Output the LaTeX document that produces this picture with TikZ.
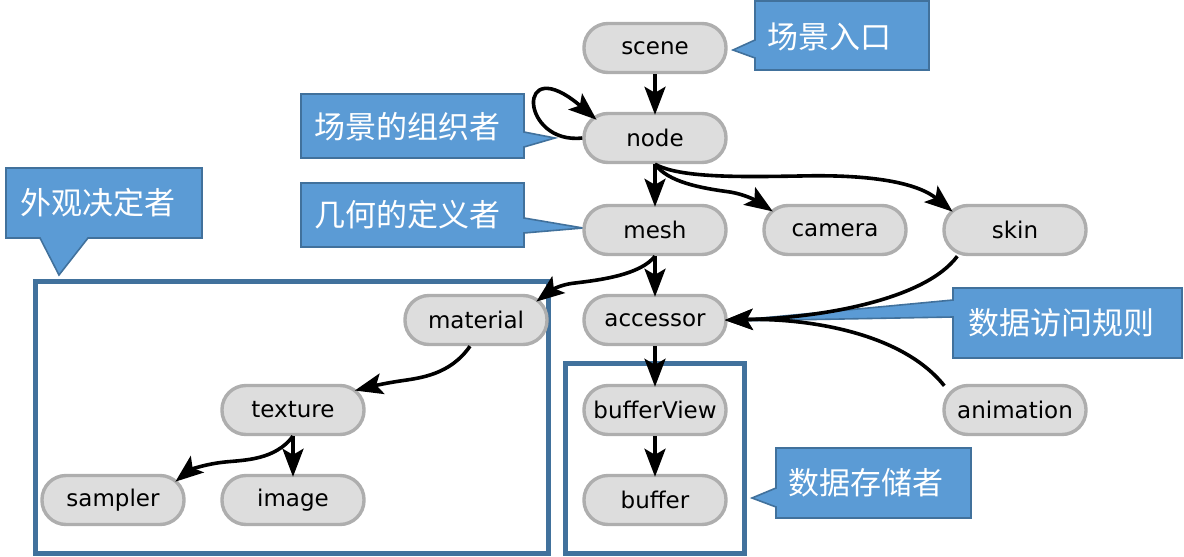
\documentclass[tikz,border=0pt]{standalone}
\usepackage{fontspec}
\setmainfont{DejaVu Sans}
\newfontfamily\cjk{Noto Sans CJK SC}
\usetikzlibrary{arrows.meta,calc}
\definecolor{nodefill}{HTML}{DDDDDD}
\definecolor{nodeline}{HTML}{AEAEAE}
\definecolor{callfill}{HTML}{5B9BD5}
\definecolor{callline}{HTML}{41719C}
\definecolor{boxline}{HTML}{41719C}
\begin{document}
\begin{tikzpicture}[x=1pt,y=-1pt,
 gnode/.style={draw=nodeline, fill=nodefill, line width=3.4pt, rounded corners=24pt, minimum width=142pt, minimum height=49pt, inner sep=0pt, font=\fontsize{23}{27}\selectfont},
 edge/.style={line width=3.6pt, shorten >=-3pt, -{Stealth[length=28pt,width=21pt,inset=6pt]}},
 calltext/.style={text=white, inner sep=0pt, font=\cjk\fontsize{31}{36}\selectfont},
 callshape/.style={fill=callfill, draw=callline, line width=1.6pt},
 group/.style={draw=boxline, line width=5pt}]
\useasboundingbox (0,0) rectangle (1184,557);

% group boxes
\draw[group] (35,281) rectangle (548,553);
\draw[group] (565,363) rectangle (744,553);

% callouts
\draw[callshape] (755,1) -- (929,1) -- (929,70) -- (755,70) -- (755,58) -- (733,50) -- (755,40) -- cycle;
\node[calltext] (c1) at (829,37) {场景入口};
\draw[callshape] (301,94) -- (524,94) -- (524,132) -- (555,138) -- (524,147) -- (524,158) -- (301,158) -- cycle;
\node[calltext] (c2) at (407,127) {场景的组织者};
\draw[callshape] (301,183) -- (524,183) -- (524,218) -- (583,228) -- (524,233) -- (524,247) -- (301,247) -- cycle;
\node[calltext] (c3) at (407,215) {几何的定义者};
\draw[callshape] (6,168) -- (202,168) -- (202,238) -- (88,238) -- (59,275) -- (40,238) -- (6,238) -- cycle;
\node[calltext] (c4) at (98,203) {外观决定者};
\draw[callshape] (953,288) -- (1182,288) -- (1182,358) -- (953,358) -- (953,317) -- (730,321) -- (953,300) -- cycle;
\node[calltext] (c5) at (1061,323) {数据访问规则};
\draw[callshape] (776,448) -- (971,448) -- (971,518) -- (776,518) -- (776,507) -- (752,498) -- (776,488) -- cycle;
\node[calltext] (c6) at (866,483) {数据存储者};

% graph nodes
\node[gnode] (scene) at (655,48) {scene};
\node[gnode] (nd) at (655,138) {node};
\node[gnode] (mesh) at (655,230) {mesh};
\node[gnode] (camera) at (835,230) {camera};
\node[gnode] (skin) at (1015,230) {skin};
\node[gnode] (material) at (476,320) {material};
\node[gnode] (accessor) at (655,320) {accessor};
\node[gnode] (texture) at (293,410) {texture};
\node[gnode] (bufferView) at (655,410) {bufferView};
\node[gnode] (animation) at (1015,410) {animation};
\node[gnode] (sampler) at (113,500) {sampler};
\node[gnode] (image) at (293,500) {image};
\node[gnode] (buffer) at (655,500) {buffer};

% edges
\draw[edge] (scene.south) -- (nd.north);
\draw[edge] (nd.west) .. controls (520,145) and (515,50) .. ($(nd.north west)+(12,6)$);
\draw[edge] (nd.south) -- (mesh.north);
\draw[edge] (nd.south) .. controls (668,182) and (700,188) .. (730,192) .. controls (748,195) and (760,203) .. ($(camera.north west)+(8,6)$);
\draw[edge] (nd.south) .. controls (680,178) and (740,177) .. (800,176) .. controls (880,174) and (920,185) .. ($(skin.north west)+(8,6)$);
\draw[edge] (mesh.south) .. controls (640,275) and (600,280) .. (575,283) .. controls (555,285) and (545,295) .. ($(material.north east)+(-10,6)$);
\draw[edge] (mesh.south) -- (accessor.north);
\draw[edge] ($(skin.south west)+(15,0)$) .. controls (925,300) and (820,318) .. (accessor.east);
\draw[edge] ($(animation.north west)+(2,2)$) .. controls (900,330) and (800,318) .. (accessor.east);
\draw[edge] (accessor.south) -- (bufferView.north);
\draw[edge] (bufferView.south) -- (buffer.north);
\draw[edge] ($(material.south)+(-6,0)$) .. controls (450,375) and (420,378) .. (400,381) .. controls (380,384) and (365,388) .. ($(texture.north east)+(-8,6)$);
\draw[edge] (texture.south) .. controls (275,460) and (245,460) .. (225,462) .. controls (205,464) and (190,470) .. ($(sampler.north east)+(-8,6)$);
\draw[edge] (texture.south) -- (image.north);
\end{tikzpicture}
\end{document}
